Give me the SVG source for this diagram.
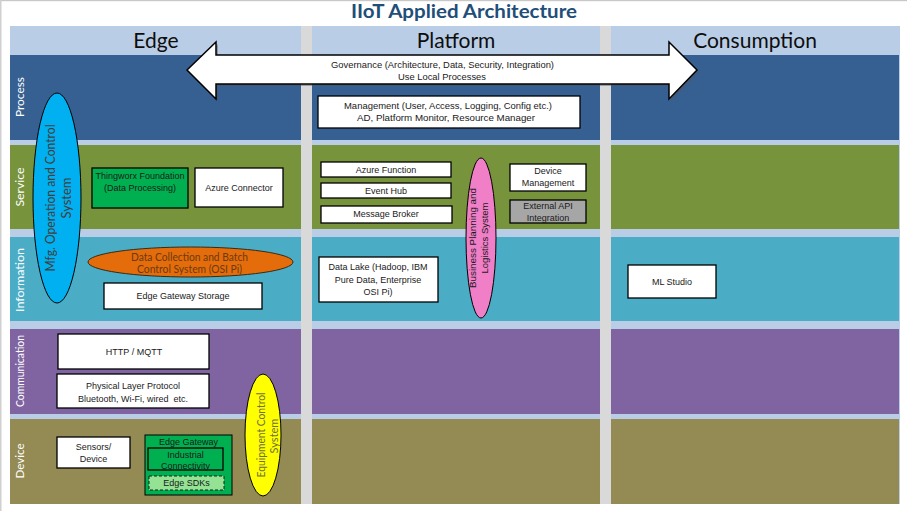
<svg xmlns="http://www.w3.org/2000/svg" width="907" height="511" viewBox="0 0 907 511">
<style>
.bx{fill:#fff;stroke:#000;stroke-width:1.3}
.t9{font-family:"Liberation Sans",Arial,sans-serif;font-size:9px;fill:#1a1a1a;text-anchor:middle}
.cal{font-family:Lato,"Open Sans",sans-serif;text-anchor:middle}
.row{font-family:Lato,"Open Sans",sans-serif;font-size:12px;fill:#fff;text-anchor:middle}
.col{font-family:Lato,"Open Sans",sans-serif;font-size:21px;fill:#0d0d0d;text-anchor:middle}
</style>
<rect x="0" y="0" width="907" height="511" fill="#fff"/>
<rect x="0" y="0" width="907" height="1.2" fill="#c8c8c8"/>
<rect x="0" y="0" width="1.5" height="511" fill="#d0d0d0"/>
<text x="464" y="18" class="cal" font-size="18.5" font-weight="bold" fill="#1f4e79" textLength="226" lengthAdjust="spacingAndGlyphs">IIoT Applied Architecture</text>
<g id="lanes">
<rect x="10" y="26" width="890" height="478" fill="#bacde6"/>
<rect x="10" y="55" width="889" height="85" fill="#366092"/>
<rect x="10" y="145" width="889" height="84" fill="#77933c"/>
<rect x="10" y="237" width="889" height="84" fill="#4bacc6"/>
<rect x="10" y="329" width="889" height="85" fill="#8064a2"/>
<rect x="10" y="419" width="889" height="85" fill="#948a54"/>
<rect x="301" y="26" width="11" height="478" fill="#d9d9d9"/>
<rect x="600" y="26" width="11" height="478" fill="#d9d9d9"/>
<text x="156" y="48" class="col">Edge</text>
<text x="456" y="48" class="col">Platform</text>
<text x="755" y="48" class="col">Consumption</text>
<text class="row" transform="translate(24,97) rotate(-90)" textLength="40" lengthAdjust="spacingAndGlyphs">Process</text>
<text class="row" transform="translate(24,187) rotate(-90)" textLength="39" lengthAdjust="spacingAndGlyphs">Service</text>
<text class="row" transform="translate(24,280) rotate(-90)" textLength="64" lengthAdjust="spacingAndGlyphs">Information</text>
<text class="row" transform="translate(24,371) rotate(-90)" textLength="72" lengthAdjust="spacingAndGlyphs">Communication</text>
<text class="row" transform="translate(24,461) rotate(-90)" textLength="35" lengthAdjust="spacingAndGlyphs">Device</text>
</g>
<g id="governance">
<polygon points="189,72 218,44 218,57 671,57 671,44 699,72 671,101 671,86 218,86 218,101" fill="#555" opacity="0.45"/>
<polygon points="187,70 216,42 216,55 669,55 669,42 697,70 669,99 669,84 216,84 216,99" fill="#fff" stroke="#000" stroke-width="1.5"/>
<text x="442.5" y="67.5" class="t9" textLength="223" lengthAdjust="spacingAndGlyphs">Governance (Architecture, Data, Security, Integration)</text>
<text x="442" y="79.5" class="t9" textLength="88" lengthAdjust="spacingAndGlyphs">Use Local Processes</text>
</g>
<g id="management">
<rect x="318" y="96" width="262" height="32" class="bx"/>
<text x="448" y="109" class="t9" textLength="208" lengthAdjust="spacingAndGlyphs">Management (User, Access, Logging, Config etc.)</text>
<text x="446" y="121" class="t9" textLength="178" lengthAdjust="spacingAndGlyphs">AD, Platform Monitor, Resource Manager</text>
</g>
<g id="thingworx">
<rect x="92" y="168" width="96" height="40" fill="#00b050" stroke="#000" stroke-width="1.3"/>
<text x="140" y="179" class="t9">Thingworx Foundation</text>
<text x="140" y="191" class="t9">(Data Processing)</text>
</g>
<g id="azure-connector">
<rect x="195" y="168" width="88" height="39" class="bx"/>
<text x="239" y="191" class="t9">Azure Connector</text>
</g>
<g id="data-collection">
<ellipse cx="190.5" cy="262" rx="102.5" ry="15" fill="#e46c0a" stroke="#3a2a10" stroke-width="1"/>
<text x="189.5" y="260.5" class="cal" font-size="11" fill="#6b3a12" textLength="117" lengthAdjust="spacingAndGlyphs">Data Collection and Batch</text>
<text x="189.5" y="273" class="cal" font-size="11" fill="#6b3a12" textLength="105" lengthAdjust="spacingAndGlyphs">Control System (OSI Pi)</text>
</g>
<g id="edge-gateway-storage">
<rect x="104" y="283" width="158" height="26" class="bx"/>
<text x="183" y="299" class="t9">Edge Gateway Storage</text>
</g>
<g id="mfg-operation">
<ellipse cx="57" cy="198" rx="24" ry="105" fill="#00b0f0" stroke="#000" stroke-width="1"/>
<text class="cal" font-size="13" fill="#404040" transform="translate(54.5,198) rotate(-90)" textLength="147" lengthAdjust="spacingAndGlyphs">Mfg. Operation and Control</text>
<text class="cal" font-size="13" fill="#404040" transform="translate(71,198) rotate(-90)">System</text>
</g>
<g id="azure-function">
<rect x="321" y="162" width="130" height="15" class="bx"/>
<text x="386" y="172.5" class="t9">Azure Function</text>
</g>
<g id="event-hub">
<rect x="321" y="183" width="130" height="15" class="bx"/>
<text x="386" y="194" class="t9">Event Hub</text>
</g>
<g id="message-broker">
<rect x="321" y="206" width="131" height="17" class="bx"/>
<text x="386" y="217" class="t9">Message Broker</text>
</g>
<g id="device-management">
<rect x="510" y="164" width="76" height="27" class="bx"/>
<text x="548" y="174" class="t9">Device</text>
<text x="548" y="186" class="t9">Management</text>
</g>
<g id="external-api">
<rect x="510" y="200" width="76" height="23" fill="#a6a6a6" stroke="#000" stroke-width="1.3"/>
<text x="548" y="209" class="t9" fill="#262626">External API</text>
<text x="548" y="221" class="t9" fill="#262626">Integration</text>
</g>
<g id="business-planning">
<ellipse cx="481" cy="238" rx="15" ry="80" fill="#f07fc8" stroke="#000" stroke-width="1"/>
<text class="t9" font-size="9.5" transform="translate(475.5,238) rotate(-90)" textLength="100" lengthAdjust="spacingAndGlyphs">Business Planning and</text>
<text class="t9" font-size="9.5" transform="translate(488,238) rotate(-90)" textLength="71" lengthAdjust="spacingAndGlyphs">Logistics System</text>
</g>
<g id="data-lake">
<rect x="319" y="257" width="119" height="45" class="bx"/>
<text x="378" y="270" class="t9" font-size="9.5">Data Lake (Hadoop, IBM</text>
<text x="378" y="282.5" class="t9" font-size="9.5">Pure Data, Enterprise</text>
<text x="378" y="295" class="t9" font-size="9.5">OSI Pi)</text>
</g>
<g id="ml-studio">
<rect x="628" y="265" width="88" height="33" class="bx"/>
<text x="672" y="284.5" class="t9">ML Studio</text>
</g>
<g id="http-mqtt">
<rect x="58" y="334" width="151" height="35" class="bx"/>
<text x="134" y="355" class="t9">HTTP / MQTT</text>
</g>
<g id="physical-layer">
<rect x="57" y="374" width="152" height="34" class="bx"/>
<text x="133" y="389" class="t9">Physical Layer Protocol</text>
<text x="133" y="401.5" class="t9" xml:space="preserve">Bluetooth, Wi-Fi, wired  etc.</text>
</g>
<g id="sensors">
<rect x="57" y="437" width="73" height="31" class="bx"/>
<text x="93.5" y="450" class="t9">Sensors/</text>
<text x="93.5" y="462" class="t9">Device</text>
</g>
<g id="edge-gateway">
<rect x="145" y="435" width="87" height="60" fill="#00b050" stroke="#000" stroke-width="1"/>
<text x="188.5" y="444.5" class="t9">Edge Gateway</text>
<rect x="148" y="448" width="75" height="22" fill="#00b050" stroke="#000" stroke-width="1.3"/>
<text x="185.5" y="457.5" class="t9">Industrial</text>
<text x="185.5" y="469" class="t9">Connectivity</text>
<rect x="149" y="476" width="75" height="14" fill="#94e394" stroke="#1a1a1a" stroke-width="1" stroke-dasharray="3,2"/>
<text x="186.5" y="486" class="t9">Edge SDKs</text>
</g>
<g id="equipment-control">
<ellipse cx="263" cy="435" rx="18" ry="61" fill="#ffff00" stroke="#000" stroke-width="1"/>
<text class="cal" font-size="11" fill="#6f6f3a" transform="translate(264.5,435) rotate(-90)" textLength="85" lengthAdjust="spacingAndGlyphs">Equipment Control</text>
<text class="cal" font-size="11" fill="#6f6f3a" transform="translate(277.5,436) rotate(-90)">System</text>
</g>
<g id="connectors"></g>
</svg>
